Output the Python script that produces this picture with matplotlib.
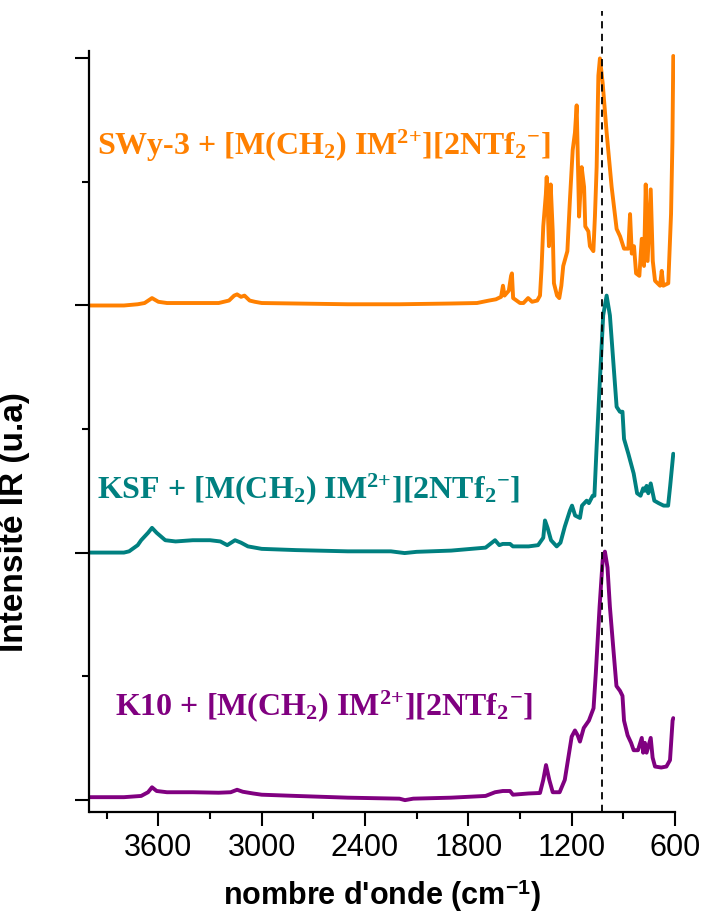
import numpy as np
import matplotlib
matplotlib.use("Agg")
from matplotlib import pyplot as plt
from matplotlib.ticker import MultipleLocator

# spectra: wavenumber (cm-1) and stacked intensity
wn_swy = [4000, 3800, 3720, 3680, 3637, 3600, 3550, 3400, 3250, 3190, 3160, 3143, 3120, 3100,
          3070, 3040, 3000, 2800, 2500, 2200, 1900, 1750, 1680, 1640, 1610, 1599, 1590, 1565,
          1552, 1547, 1540, 1500, 1480, 1453, 1430, 1400, 1384, 1375, 1365, 1350, 1345, 1340,
          1332, 1322, 1310, 1303, 1285, 1272, 1260, 1249, 1225, 1210, 1194, 1181, 1171, 1157,
          1142, 1128, 1121, 1103, 1094, 1074, 1065, 1055, 1045, 1036, 1028, 1020, 997, 968,
          939, 919, 896, 871, 861, 851, 838, 826, 807, 793, 780, 770, 759, 741, 729, 716,
          687, 677, 668, 639, 623, 615, 610]
int_swy = [2.00, 2.00, 2.005, 2.01, 2.03, 2.015, 2.01, 2.01, 2.01, 2.02, 2.04, 2.045, 2.035, 2.04,
           2.02, 2.015, 2.01, 2.008, 2.005, 2.005, 2.008, 2.01, 2.02, 2.025, 2.035, 2.08, 2.04, 2.06,
           2.12, 2.13, 2.03, 2.01, 2.01, 2.03, 2.015, 2.02, 2.04, 2.15, 2.32, 2.45, 2.52, 2.42,
           2.24, 2.49, 2.30, 2.09, 2.04, 2.03, 2.08, 2.16, 2.22, 2.43, 2.63, 2.70, 2.81, 2.36,
           2.56, 2.48, 2.32, 2.30, 2.24, 2.22, 2.36, 2.56, 2.93, 3.00, 2.95, 2.90, 2.70, 2.48,
           2.31, 2.28, 2.23, 2.23, 2.37, 2.21, 2.24, 2.13, 2.12, 2.27, 2.16, 2.49, 2.18, 2.47, 2.18, 2.10,
           2.08, 2.14, 2.08, 2.09, 2.37, 2.66, 3.01]

wn_ksf = [4000, 3800, 3770, 3720, 3700, 3660, 3637, 3610, 3560, 3500, 3400, 3300, 3240, 3200,
          3155, 3120, 3080, 3000, 2800, 2500, 2250, 2170, 2100, 1900, 1700, 1645, 1620, 1600,
          1558, 1541, 1450, 1395, 1365, 1355, 1340, 1320, 1287, 1265, 1240, 1210, 1198, 1180,
          1152, 1140, 1113, 1100, 1078, 1068, 1055, 1036, 1017, 997, 978, 958, 939, 920, 905,
          896, 871, 840, 820, 800, 785, 775, 765, 755, 741, 720, 695, 666, 640, 628, 610]
int_ksf = [1.0, 1.0, 1.005, 1.03, 1.05, 1.08, 1.10, 1.08, 1.05, 1.045, 1.05, 1.05, 1.045, 1.03,
           1.05, 1.04, 1.025, 1.015, 1.01, 1.005, 1.005, 0.998, 1.003, 1.008, 1.02, 1.05, 1.03, 1.035,
           1.035, 1.025, 1.025, 1.03, 1.06, 1.13, 1.10, 1.05, 1.025, 1.04, 1.105, 1.17, 1.19, 1.15,
           1.14, 1.19, 1.21, 1.20, 1.23, 1.23, 1.43, 1.70, 1.96, 2.04, 1.96, 1.77, 1.59, 1.57, 1.57,
           1.46, 1.40, 1.32, 1.24, 1.23, 1.26, 1.25, 1.27, 1.24, 1.28, 1.21, 1.20, 1.19, 1.19, 1.27, 1.40]

wn_k10 = [4000, 3800, 3700, 3660, 3637, 3610, 3550, 3400, 3250, 3180, 3143, 3110, 3050, 3000,
          2800, 2500, 2200, 2168, 2120, 1900, 1700, 1645, 1600, 1558, 1541, 1450, 1384, 1365,
          1349, 1330, 1310, 1270, 1240, 1224, 1200, 1181, 1165, 1152, 1130, 1100, 1073, 1060,
          1038, 1020, 1007, 992, 978, 958, 940, 919, 905, 896, 875, 855, 840, 815, 793, 785,
          775, 765, 741, 730, 716, 680, 650, 629, 614, 610]
int_k10 = [0.01, 0.01, 0.015, 0.03, 0.05, 0.035, 0.03, 0.03, 0.028, 0.03, 0.04, 0.032, 0.025, 0.02,
           0.015, 0.008, 0.004, -0.002, 0.004, 0.008, 0.015, 0.03, 0.035, 0.035, 0.02, 0.025, 0.027, 0.08,
           0.14, 0.08, 0.03, 0.03, 0.08, 0.15, 0.255, 0.28, 0.26, 0.235, 0.29, 0.32, 0.37, 0.51,
           0.78, 0.97, 1.004, 0.94, 0.78, 0.61, 0.46, 0.44, 0.42, 0.32, 0.26, 0.23, 0.20, 0.20, 0.25, 0.19,
           0.23, 0.19, 0.25, 0.17, 0.134, 0.13, 0.134, 0.16, 0.32, 0.33]

labels = ["SWy-3 + [M(CH$_2$) IM$^{2{+}}$][2NTf$_2$$^{-}$]",
          "KSF + [M(CH$_2$) IM$^{2{+}}$][2NTf$_2$$^{-}$]",
          "K10 + [M(CH$_2$) IM$^{2{+}}$][2NTf$_2$$^{-}$]"]
colors = ["#ff8000", "#008080", "#800080"]
label_x = [3956, 3957, 3852]
label_y = [2.61, 1.22, 0.343]
ref_line = 1025

plt.rcParams['mathtext.fontset'] = 'custom'
plt.rcParams['mathtext.rm'] = 'Liberation Serif:bold'
plt.rcParams['mathtext.it'] = 'Liberation Serif:bold'
plt.rcParams['mathtext.bf'] = 'Liberation Serif:bold'

fig = plt.figure(figsize=(7.05, 9.16), dpi=100)
ax = fig.add_axes([89.5 / 705, 1 - 812 / 916, (675 - 89.5) / 705, (812 - 9) / 916])

series = [(wn_swy, int_swy), (wn_ksf, int_ksf), (wn_k10, int_k10)]
for (x, y), c in zip(series, colors):
    ax.plot(x, y, color=c, lw=2.8, solid_joinstyle='round', solid_capstyle='round')

ax.vlines(ref_line, -0.05, 3.19, colors='black', linestyles=(0, (4, 3)), lw=1.3)

for t, c, x, y in zip(labels, colors, label_x, label_y):
    ax.text(x, y, t, color=c, fontsize=23, fontweight='bold', family='Liberation Serif',
            ha='left', va='baseline')

ax.set_xlim(4000, 600)
ax.set_ylim(-0.05, 3.2)
ax.xaxis.set_minor_locator(MultipleLocator(300))
ax.yaxis.set_major_locator(MultipleLocator(1))
ax.yaxis.set_minor_locator(MultipleLocator(0.5))
ax.set_xticks([3600, 3000, 2400, 1800, 1200, 600])
ax.set_yticklabels([])
ax.tick_params(which='major', direction='out', length=10, width=1.5, pad=5, labelsize=22)
ax.tick_params(which='minor', direction='out', length=5, width=1.5)
for lab in ax.get_xticklabels():
    lab.set_family('Liberation Sans')

ax.spines['top'].set_visible(False)
ax.spines['right'].set_visible(False)
ax.spines['left'].set_linewidth(1.6)
ax.spines['bottom'].set_linewidth(1.6)
ax.spines['left'].set_bounds(-0.05, 3.03)

ax.set_xlabel("nombre d'onde (cm$^{\\mathregular{-1}}$)", fontsize=22, fontweight='bold',
              family='Liberation Sans', labelpad=10)
ax.set_ylabel("Intensité IR (u.a)", fontsize=24, fontweight='bold', family='Liberation Sans')
ax.yaxis.set_label_coords(-0.102, 0.361)

fig.savefig("out.png", dpi=100)
